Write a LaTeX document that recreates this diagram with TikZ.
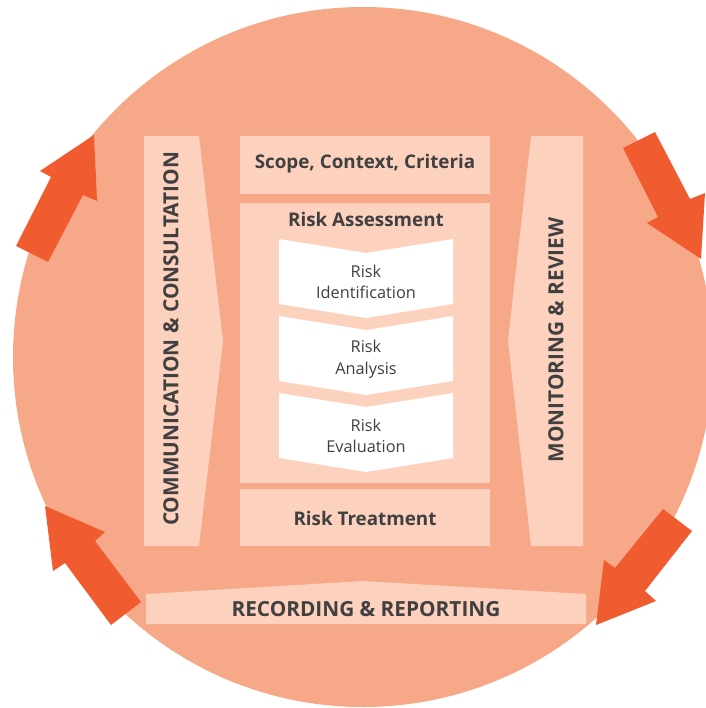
\documentclass[tikz,border=0pt]{standalone}
\usepackage{fontspec}
\setmainfont{Open Sans}
\usetikzlibrary{positioning}
\definecolor{ring}{RGB}{247,168,136}
\definecolor{pale}{RGB}{252,209,190}
\definecolor{arrowred}{RGB}{241,91,48}
\definecolor{ink}{RGB}{64,64,64}

\begin{document}
\begin{tikzpicture}[x=1pt,y=-1pt]
		\tikzset{box/.style={fill=pale, inner sep=0pt}}
		\tikzset{title/.style={text=ink, inner sep=0pt, font=\fontsize{18.8}{23}\selectfont\bfseries}}
		\tikzset{caps/.style={text=ink, inner sep=0pt, font=\fontsize{20.8}{24}\selectfont\bfseries}}
		\tikzset{stage/.style={text=ink, inner sep=0pt, align=center, font=\fontsize{16.3}{21.7}\selectfont}}
		\tikzset{chevron/.style={fill=white}}
		\tikzset{bigarrow/.style={fill=arrowred}}
		\useasboundingbox (0,0) rectangle (705,708);
		%circle
		\fill[ring] (363,357) circle[radius=350];
		%side bands
		\fill[box] (144,136) -- (199,136) -- (223,341) -- (199,546) -- (144,546) -- cycle;
		\fill[box] (531,136) -- (583,136) -- (583,546) -- (531,546) -- (508,341) -- cycle;
		\fill[box] (146,594) -- (363,581) -- (586,594) -- (586,624) -- (146,624) -- cycle;
		\node[caps, rotate=90] (comm) at (171,339) {COMMUNICATION \& CONSULTATION};
		\node[caps, rotate=90] (monitor) at (556,340) {MONITORING \& REVIEW};
		\node[caps] (record) at (366,609) {RECORDING \& REPORTING};
		%process boxes
		\node[box, minimum width=250, minimum height=58] (scope) at (365,165) {};
		\node[title] (scopetext) at (365,164) {Scope, Context, Criteria};
		\node[box, minimum width=250, minimum height=280] (assess) at (365,343) {};
		\node[title] (assesstext) at (366,219) {Risk Assessment};
		\node[box, minimum width=250, minimum height=57] (treat) at (365,517.5) {};
		\node[title] (treattext) at (365,518) {Risk Treatment};
		%chevrons
		\fill[chevron] (279,239) -- (366,253) -- (453,239) -- (453,304) -- (366,318) -- (279,304) -- cycle;
		\fill[chevron] (279,316) -- (366,330) -- (453,316) -- (453,381) -- (366,395) -- (279,381) -- cycle;
		\fill[chevron] (279,393) -- (366,407) -- (453,393) -- (453,458) -- (366,472) -- (279,458) -- cycle;
		\node[stage] (ident) at (366,282) {Risk\\Identification};
		\node[stage] (analysis) at (366,359) {Risk\\Analysis};
		\node[stage] (evaluation) at (366,436) {Risk\\Evaluation};
		%arrows
		\fill[bigarrow] (94,135) -- (97,201) -- (83,195) -- (48,262) -- (16,246) -- (51,177) -- (40,171) -- cycle;
		\fill[bigarrow] (701,259) -- (647,223) -- (658,217) -- (623,148) -- (655,132) -- (690,199) -- (705,193) -- cycle;
		\fill[bigarrow] (596,625) -- (604,560) -- (615,568) -- (663,509) -- (692,531) -- (645,591) -- (656,601) -- cycle;
		\fill[bigarrow] (45,506) -- (105,532) -- (95,541) -- (141,602) -- (111,625) -- (65,563) -- (53,571) -- cycle;
\end{tikzpicture}
\end{document}
